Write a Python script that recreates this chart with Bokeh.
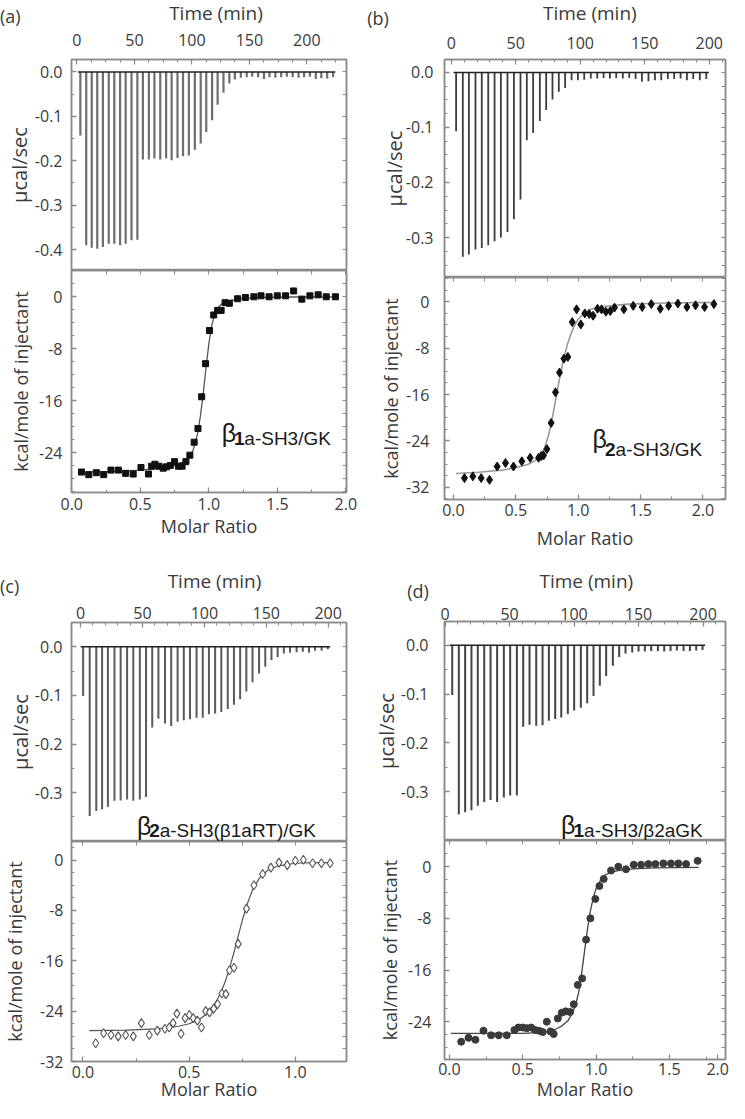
from bokeh.plotting import figure
from bokeh.models import Range1d, LinearAxis, FixedTicker, PrintfTickFormatter, Label, Div
from bokeh.layouts import column, row
from bokeh.embed import file_html
from bokeh.resources import INLINE

# ---------------- data: raw thermograms (injection time, peak height) ----------------
a_time = [3.0, 8.1, 12.9, 17.7, 22.6, 27.7, 32.5, 37.6, 42.4, 47.5, 52.6, 57.4, 62.6, 67.4, 72.5,
          77.6, 82.4, 87.5, 92.3, 97.4, 102.6, 107.7, 112.5, 117.6, 122.4, 127.5, 132.6, 137.4,
          142.6, 147.7, 152.5, 157.6, 162.7, 167.5, 172.6, 177.7, 182.6, 187.7, 192.8, 197.6,
          202.7, 207.8, 212.6, 217.7, 222.8]
a_peak = [-0.143, -0.390, -0.396, -0.398, -0.394, -0.387, -0.387, -0.390, -0.387, -0.379, -0.378,
          -0.197, -0.197, -0.195, -0.197, -0.195, -0.199, -0.194, -0.190, -0.188, -0.175, -0.161,
          -0.135, -0.109, -0.074, -0.047, -0.026, -0.017, -0.013, -0.012, -0.011, -0.012, -0.016,
          -0.012, -0.013, -0.012, -0.011, -0.012, -0.013, -0.012, -0.011, -0.016, -0.014, -0.015, -0.012]

b_time = [3.8, 9.0, 13.7, 18.8, 23.7, 28.7, 33.6, 38.5, 43.6, 48.6, 53.7, 58.6, 63.5, 68.7, 73.6,
          78.5, 83.4, 88.3, 93.3, 98.2, 103.1, 108.2, 113.2, 118.1, 123.0, 127.9, 133.0, 138.0,
          142.9, 147.8, 152.9, 157.9, 162.8, 167.9, 172.8, 177.8, 182.7, 187.6, 192.7, 197.7]
b_peak = [-0.107, -0.335, -0.331, -0.322, -0.319, -0.314, -0.307, -0.300, -0.290, -0.267, -0.231,
          -0.123, -0.110, -0.088, -0.068, -0.049, -0.035, -0.028, -0.014, -0.014, -0.013, -0.011,
          -0.011, -0.010, -0.011, -0.010, -0.011, -0.010, -0.012, -0.017, -0.016, -0.014, -0.014,
          -0.012, -0.012, -0.011, -0.014, -0.012, -0.014, -0.012]

c_time = [2.1, 7.4, 12.7, 17.4, 22.1, 27.4, 32.4, 37.6, 42.6, 47.9, 52.9, 57.9, 62.9, 68.2, 73.2,
          78.4, 83.4, 88.4, 93.7, 98.7, 103.7, 108.7, 113.7, 118.9, 123.9, 128.9, 133.9, 138.9,
          144.2, 149.2, 154.2, 159.2, 164.2, 169.2, 174.5, 179.5, 184.5, 189.4, 194.7, 199.7]
c_peak = [-0.101, -0.348, -0.338, -0.334, -0.329, -0.317, -0.316, -0.314, -0.317, -0.314, -0.309,
          -0.166, -0.148, -0.158, -0.163, -0.154, -0.151, -0.149, -0.146, -0.146, -0.139, -0.137,
          -0.134, -0.128, -0.119, -0.108, -0.092, -0.073, -0.055, -0.041, -0.027, -0.021, -0.014,
          -0.012, -0.011, -0.010, -0.012, -0.008, -0.008, -0.005]

d_time = [5.6, 10.7, 15.6, 20.5, 25.4, 30.4, 35.3, 40.4, 45.6, 50.5, 55.7, 60.6, 65.5, 70.7, 75.6,
          80.5, 85.4, 90.1, 95.2, 100.1, 105.3, 110.2, 115.1, 120.0, 124.9, 130.1, 135.0, 139.9,
          145.1, 150.0, 154.9, 159.8, 165.0, 169.9, 174.8, 179.7, 184.9, 189.8, 194.7, 199.6]
d_peak = [-0.102, -0.346, -0.342, -0.338, -0.329, -0.321, -0.317, -0.321, -0.312, -0.308, -0.308,
          -0.167, -0.163, -0.165, -0.164, -0.155, -0.151, -0.148, -0.141, -0.134, -0.128, -0.119,
          -0.104, -0.083, -0.063, -0.042, -0.024, -0.017, -0.015, -0.013, -0.013, -0.012, -0.012,
          -0.013, -0.012, -0.011, -0.012, -0.012, -0.011, -0.010]

# ---------------- data: integrated heats ----------------
a_ratio = [0.071, 0.124, 0.179, 0.233, 0.286, 0.340, 0.393, 0.448, 0.505, 0.560, 0.583, 0.607,
           0.636, 0.667, 0.690, 0.719, 0.750, 0.779, 0.805, 0.833, 0.862, 0.893, 0.921, 0.948,
           0.976, 1.005, 1.036, 1.064, 1.090, 1.119, 1.150, 1.210, 1.267, 1.329, 1.381, 1.440,
           1.500, 1.560, 1.619, 1.679, 1.738, 1.798, 1.857, 1.924]
a_heat = [-27.0, -27.4, -27.1, -27.4, -26.7, -26.7, -27.2, -27.3, -26.3, -27.3, -26.1, -25.8,
          -26.1, -26.4, -26.2, -26.0, -25.4, -26.1, -26.1, -25.4, -24.4, -22.4, -20.3, -15.4,
          -10.3, -5.2, -2.8, -2.1, -2.1, -0.9, -1.0, -0.3, -0.1, 0.0, 0.15, 0.0, 0.15, 0.15,
          0.9, -0.36, 0.15, 0.3, 0.0, 0.0]
a_fit_ratio = [0.07, 0.3, 0.5, 0.65, 0.75, 0.82, 0.86, 0.88, 0.90, 0.92, 0.94, 0.96, 0.98, 1.00,
               1.02, 1.04, 1.07, 1.10, 1.15, 1.25, 1.4, 1.6, 1.93]
a_fit_heat = [-27.0, -26.9, -26.7, -26.4, -26.0, -25.4, -24.6, -23.9, -22.7, -20.9, -18.2, -14.8,
              -10.9, -7.3, -4.6, -2.9, -1.6, -1.0, -0.6, -0.25, -0.1, -0.03, 0.0]

b_ratio = [0.088, 0.155, 0.222, 0.289, 0.350, 0.417, 0.481, 0.548, 0.615, 0.682, 0.703, 0.722,
           0.749, 0.783, 0.818, 0.850, 0.885, 0.917, 0.952, 0.987, 1.021, 1.053, 1.088, 1.120,
           1.155, 1.187, 1.222, 1.257, 1.291, 1.366, 1.441, 1.513, 1.586, 1.658, 1.725, 1.799,
           1.872, 1.941, 2.013, 2.088]
b_heat = [-30.4, -30.1, -30.4, -30.7, -28.4, -27.8, -28.4, -27.5, -26.9, -26.9, -26.6, -26.5,
          -25.4, -20.9, -15.6, -12.2, -9.8, -9.5, -3.5, -1.3, -3.9, -2.0, -2.1, -2.4, -1.2, -1.3,
          -1.7, -1.6, -1.0, -1.3, -0.7, -0.9, -0.4, -1.2, -0.7, -0.3, -0.9, -0.6, -0.9, -0.4]
b_fit_ratio = [0.02, 0.2, 0.4, 0.5, 0.6, 0.66, 0.70, 0.73, 0.76, 0.79, 0.82, 0.85, 0.88, 0.91,
               0.94, 0.97, 1.0, 1.05, 1.1, 1.2, 1.4, 1.7, 2.1]
b_fit_heat = [-29.6, -29.4, -29.0, -28.6, -28.0, -27.3, -26.4, -25.2, -23.2, -20.3, -16.8, -13.3,
              -10.2, -7.6, -5.6, -4.1, -3.0, -1.9, -1.3, -0.8, -0.4, -0.2, -0.1]

c_ratio = [0.060, 0.097, 0.132, 0.166, 0.201, 0.237, 0.275, 0.312, 0.350, 0.386, 0.406, 0.424,
           0.442, 0.462, 0.481, 0.501, 0.519, 0.539, 0.558, 0.578, 0.596, 0.616, 0.634, 0.654,
           0.673, 0.690, 0.711, 0.731, 0.770, 0.805, 0.846, 0.885, 0.923, 0.962, 1.000, 1.038,
           1.081, 1.123, 1.164]
c_heat = [-29.1, -27.5, -27.8, -28.0, -27.8, -28.0, -25.9, -27.8, -27.1, -26.8, -26.6, -25.9,
          -24.4, -27.6, -25.1, -24.6, -25.1, -25.5, -26.6, -24.0, -24.2, -23.6, -22.9, -21.2,
          -21.3, -17.5, -17.1, -13.3, -7.7, -4.0, -2.2, -1.2, -0.4, -0.8, -0.1, 0.05, -0.5,
          -0.5, -0.5]
c_fit_ratio = [0.03, 0.2, 0.35, 0.45, 0.5, 0.55, 0.58, 0.61, 0.63, 0.65, 0.67, 0.69, 0.71, 0.73,
               0.75, 0.77, 0.80, 0.83, 0.87, 0.92, 1.0, 1.08, 1.165]
c_fit_heat = [-27.1, -27.0, -26.8, -26.4, -26.0, -25.3, -24.5, -23.3, -22.3, -21.0, -19.3, -17.2,
              -14.8, -12.2, -9.6, -7.3, -4.6, -2.9, -1.6, -0.9, -0.5, -0.4, -0.4]

d_ratio = [0.080, 0.130, 0.177, 0.232, 0.284, 0.336, 0.391, 0.443, 0.470, 0.500, 0.527, 0.557,
           0.584, 0.611, 0.636, 0.664, 0.689, 0.711, 0.739, 0.766, 0.793, 0.823, 0.848, 0.875,
           0.905, 0.932, 0.961, 0.995, 1.023, 1.052, 1.102, 1.152, 1.204, 1.257, 1.307, 1.357,
           1.405, 1.459, 1.511, 1.561, 1.614, 1.693]
d_heat = [-27.1, -26.5, -26.8, -25.4, -26.1, -26.1, -26.1, -25.3, -24.9, -24.9, -25.0, -24.9,
          -25.3, -25.4, -25.6, -24.0, -25.5, -25.9, -23.5, -22.6, -22.4, -22.5, -21.3, -18.3,
          -17.3, -11.3, -8.0, -5.0, -3.0, -1.9, -0.6, 0.0, -0.4, 0.3, 0.3, 0.4, 0.4, 0.5, 0.5,
          0.5, 0.4, 0.9]
d_fit_ratio = [0.01, 0.3, 0.5, 0.65, 0.72, 0.77, 0.81, 0.84, 0.86, 0.88, 0.90, 0.92, 0.94, 0.96,
               0.98, 1.0, 1.03, 1.06, 1.1, 1.15, 1.25, 1.4, 1.7]
d_fit_heat = [-25.8, -25.8, -25.8, -25.6, -25.2, -24.6, -23.8, -22.6, -21.4, -19.6, -16.8, -13.3,
              -9.9, -7.0, -4.9, -3.4, -2.1, -1.3, -0.9, -0.6, -0.35, -0.2, -0.1]

# ---------------- tick labels / texts ----------------
time_ticks = [0, 50, 100, 150, 200]
power_ticks_4 = [0.0, -0.1, -0.2, -0.3, -0.4]
power_ticks_3 = [0.0, -0.1, -0.2, -0.3]
heat_ticks_24 = [0, -8, -16, -24]
heat_ticks_32 = [0, -8, -16, -24, -32]
ratio_ticks_2 = [0.0, 0.5, 1.0, 1.5, 2.0]
ratio_ticks_1 = [0.0, 0.5, 1.0]
ratio_labels_d = ["0.0", "0.5", "1.0", "1.5", "2.0"]
panel_tags = ["(a)", "(b)", "(c)", "(d)"]
time_title = "Time (min)"
ratio_title = "Molar Ratio"
power_title = "µcal/sec"
heat_title = "kcal/mole of injectant"
constructs = [("1", "a-SH3/GK"), ("2", "a-SH3/GK"), ("2", "a-SH3(β1aRT)/GK"), ("1", "a-SH3/β2aGK")]

FONT = "Open Sans"
TXT = "#3a3a3a"
FRAME = "#8a8a8a"


def minors(lo, hi, step):
    n = int(round((hi - lo) / step))
    return [lo + i * step for i in range(n + 1)]


def style_ticks(ax):
    ax.axis_line_color = FRAME
    ax.axis_line_width = 1.5
    ax.major_tick_in = 5
    ax.major_tick_out = 0
    ax.minor_tick_in = 3
    ax.minor_tick_out = 0
    ax.major_tick_line_color = FRAME
    ax.minor_tick_line_color = FRAME
    ax.major_tick_line_width = 1.3
    ax.minor_tick_line_width = 1.0


def mk_axis(ticks, minor, fmt, standoff=6, title=None, als=0, tsize="18px", overrides=None):
    ax = LinearAxis(ticker=FixedTicker(ticks=ticks, minor_ticks=minor),
                    formatter=PrintfTickFormatter(format=fmt))
    style_ticks(ax)
    ax.major_label_text_font = FONT
    ax.major_label_text_font_size = "16px"
    ax.major_label_text_color = TXT
    ax.major_label_standoff = standoff
    if overrides:
        ax.major_label_overrides = overrides
    if title:
        ax.axis_label = title
        ax.axis_label_text_font = FONT
        ax.axis_label_text_font_size = tsize
        ax.axis_label_text_font_style = "normal"
        ax.axis_label_text_color = TXT
        ax.axis_label_standoff = als
    return ax


def mirror_axis(ticks, minor):
    # tick marks only (no labels): every position is drawn as a minor tick
    ax = LinearAxis(ticker=FixedTicker(ticks=[], minor_ticks=sorted(set(ticks) | set(minor))))
    style_ticks(ax)
    ax.minor_tick_in = 4
    ax.major_label_standoff = 0
    return ax


def mk_fig(g, bl, br, bt, bb):
    p = figure(width=bl + g["fw"] + br, height=bt + g["fh"] + bb,
               x_range=Range1d(*g["xr"]), y_range=Range1d(*g["yr"]),
               min_border_left=bl, min_border_right=br, min_border_top=bt, min_border_bottom=bb,
               x_axis_location=None, y_axis_location=None,
               toolbar_location=None, output_backend="svg")
    p.outline_line_color = FRAME
    p.outline_line_width = 1.5
    p.background_fill_color = "white"
    p.border_fill_color = None
    for gr in p.grid:
        gr.visible = False
    return p


def span(x, top, text, size, center=False):
    shift = "transform:translateX(-50%);" if center else ""
    return (f'<span style="position:absolute;left:{x}px;top:{top}px;{shift}white-space:nowrap;'
            f'font-size:{size}px;line-height:{size}px;">{text}</span>')


def header_div(w, h, tag, tag_x, tag_top, title_x, title_top):
    html = (f'<div style="position:relative;width:{w}px;height:{h}px;overflow:visible;'
            f'font-family:\'Open Sans\';color:{TXT};">'
            + span(tag_x, tag_top, tag, 18) + span(title_x, title_top, time_title, 19, center=True)
            + '</div>')
    return Div(text=html, width=w, height=h, margin=0, styles={"overflow": "visible"})


def to_data(g, sx, sy):
    x = g["xr"][0] + (sx - g["left"]) / g["fw"] * (g["xr"][1] - g["xr"][0])
    y = g["yr"][1] - (sy - g["top"]) / g["fh"] * (g["yr"][1] - g["yr"][0])
    return x, y


def add_text(p, g, sx, sy, text, size, style="normal"):
    x, y = to_data(g, sx, sy)
    p.add_layout(Label(x=x, y=y, text=text, text_font="Liberation Sans", text_font_size=size,
                       text_color="#1a1a1a", text_align="left", text_baseline="alphabetic",
                       text_font_style=style))


def construct_label(p, g, sx, sy_beta, sy_sub, sub_bold, sub_rest):
    add_text(p, g, sx, sy_beta, "β", "25px")
    add_text(p, g, sx + 12.5, sy_sub, sub_bold, "19px", style="bold")
    add_text(p, g, sx + 23.1, sy_sub, sub_rest, "19px")


def thermogram(p, t, pk, color, width):
    p.segment(x0=t, y0=[0.0] * len(t), x1=t, y1=pk, line_color=color, line_width=width)
    p.line(x=[t[0] - 2, t[-1] + 2], y=[0.0, 0.0], line_color="#222222", line_width=1.4)


# ---------------- geometry (screen px of the reference) ----------------
LW, RW = 360, 369           # column widths
LB_L, RB_L = 65, 14         # left column borders (left, right)
LB_R, RB_R = 84, 4          # right column borders (left, right)
FW = 281                    # frame width, all plots
G = {
    "a_top": dict(left=73, top=67, fw=FW, fh=211, xr=(-4.7, 234.5), yr=(-0.447, 0.028)),
    "a_bot": dict(left=73, top=278, fw=FW, fh=222, xr=(-0.002, 2.005), yr=(-30.15, 4.05)),
    "b_top": dict(left=452, top=67, fw=FW, fh=218, xr=(-5.2, 212.6), yr=(-0.3727, 0.0236)),
    "b_bot": dict(left=452, top=285, fw=FW, fh=222, xr=(-0.072, 2.181), yr=(-34.09, 4.19)),
    "c_top": dict(left=73, top=630, fw=FW, fh=219, xr=(-7.3, 214.8), yr=(-0.4006, 0.05)),
    "c_bot": dict(left=73, top=849, fw=FW, fh=221, xr=(-0.054, 1.241), yr=(-32.0, 2.96)),
    "d_top": dict(left=452, top=629, fw=FW, fh=219, xr=(-0.4, 217.4), yr=(-0.4, 0.0485)),
    "d_bot": dict(left=452, top=848, fw=FW, fh=220, xr=(-0.034, 1.883), yr=(-29.85, 4.05)),
}

pw_minor_05 = minors(-0.45, 0.05, 0.05)
pw_minor_025 = minors(-0.4, 0.025, 0.025)
heat_minor = minors(-34, 4, 2)
ratio_minor = minors(0, 2.25, 0.25)

# ---------------- panel (a) ----------------
hdr_a = header_div(LW, 25, panel_tags[0], 0, 6.5, 216, 3.5)

g = G["a_top"]
a_top = mk_fig(g, LB_L, RB_L, 34, 0)
a_top.add_layout(mk_axis(time_ticks, minors(0, 237.5, 12.5), "%d", standoff=14), "above")
a_top.add_layout(mk_axis(power_ticks_4, pw_minor_05, "%.1f", standoff=9, title=power_title, als=-1, tsize="20px"), "left")
a_top.add_layout(mirror_axis(power_ticks_4, pw_minor_05), "right")
thermogram(a_top, a_time, a_peak, "#6e6e6e", 2.2)

g = G["a_bot"]
a_bot = mk_fig(g, LB_L, RB_L, 0, 78)
a_bot.add_layout(mk_axis(ratio_ticks_2, ratio_minor, "%.1f", standoff=5, title=ratio_title, als=1), "below")
a_bot.add_layout(mirror_axis(ratio_ticks_2, ratio_minor), "above")
a_bot.add_layout(mk_axis(heat_ticks_24, heat_minor, "%d", standoff=9, title=heat_title, als=3), "left")
a_bot.add_layout(mirror_axis(heat_ticks_24, heat_minor), "right")
a_bot.line(a_fit_ratio, a_fit_heat, line_color="#555555", line_width=1.3)
a_bot.scatter(a_ratio, a_heat, marker="square", size=6, color="#111111")
construct_label(a_bot, g, 226.5, 440, 446, *constructs[0])

# ---------------- panel (b) ----------------
hdr_b = header_div(RW, 25, panel_tags[1], 7.3, 9, 229.8, 3.5)

g = G["b_top"]
b_top = mk_fig(g, LB_R, RB_R, 34, 0)
b_top.add_layout(mk_axis(time_ticks, minors(0, 210, 10), "%d", standoff=11), "above")
b_top.add_layout(mk_axis(power_ticks_3, pw_minor_025, "%.1f", standoff=11, title=power_title, als=-5, tsize="20px"), "left")
b_top.add_layout(mirror_axis(power_ticks_3, pw_minor_025), "right")
thermogram(b_top, b_time, b_peak, "#3c3c3c", 1.8)

g = G["b_bot"]
b_bot = mk_fig(g, LB_R, RB_R, 0, 72)
b_bot.add_layout(mk_axis(ratio_ticks_2, ratio_minor, "%.1f", standoff=4, title=ratio_title, als=7), "below")
b_bot.add_layout(mirror_axis(ratio_ticks_2, ratio_minor), "above")
b_bot.add_layout(mk_axis(heat_ticks_32, heat_minor, "%d", standoff=15, title=heat_title, als=0), "left")
b_bot.add_layout(mirror_axis(heat_ticks_32, heat_minor), "right")
b_bot.line(b_fit_ratio, b_fit_heat, line_color="#999999", line_width=1.6)
b_bot.scatter(b_ratio, b_heat, marker="diamond", size=9, color="#111111")
construct_label(b_bot, g, 600, 446, 456.5, *constructs[1])

# ---------------- panel (c) ----------------
hdr_c = header_div(LW, 28, panel_tags[2], 0, 7.4, 214.5, 2.1)

g = G["c_top"]
c_top = mk_fig(g, LB_L, RB_L, 24, 0)
c_top.add_layout(mk_axis(time_ticks, minors(0, 210, 10), "%d", standoff=4), "above")
c_top.add_layout(mk_axis(power_ticks_3, pw_minor_05, "%.1f", standoff=9, title=power_title, als=-2, tsize="20px"), "left")
c_top.add_layout(mirror_axis(power_ticks_3, pw_minor_05), "right")
thermogram(c_top, c_time, c_peak, "#5a5a5a", 2.0)
construct_label(c_top, g, 140, 833, 838.3, *constructs[2])

g = G["c_bot"]
c_bot = mk_fig(g, LB_L, RB_L, 0, 41)
c_bot.add_layout(mk_axis(ratio_ticks_1, ratio_minor, "%.1f", standoff=4, title=ratio_title, als=-4), "below")
c_bot.add_layout(mirror_axis(ratio_ticks_1, ratio_minor), "above")
c_bot.add_layout(mk_axis(heat_ticks_32, heat_minor, "%d", standoff=8, title=heat_title, als=10), "left")
c_bot.add_layout(mirror_axis(heat_ticks_32, heat_minor), "right")
c_bot.line(c_fit_ratio, c_fit_heat, line_color="#555555", line_width=1.2)
c_bot.scatter(c_ratio, c_heat, marker="diamond", size=9, fill_color="white",
              line_color="#555555", line_width=1.1)

# ---------------- panel (d) ----------------
hdr_d = header_div(RW, 28, panel_tags[3], 47.3, 11, 226.3, 1.1)

g = G["d_top"]
d_top = mk_fig(g, LB_R, RB_R, 22, 0)
d_top.add_layout(mk_axis(time_ticks, minors(0, 210, 10), "%d", standoff=2), "above")
d_top.add_layout(mk_axis(power_ticks_3, pw_minor_05, "%.1f", standoff=16, title=power_title, als=-2, tsize="20px"), "left")
d_top.add_layout(mirror_axis(power_ticks_4, pw_minor_05), "right")
thermogram(d_top, d_time, d_peak, "#444444", 2.0)
construct_label(d_top, g, 568.5, 832.5, 838.3, *constructs[3])

g = G["d_bot"]
d_ratio_ticks = ratio_ticks_2[:-1] + [1.83]
d_bot = mk_fig(g, LB_R, RB_R, 0, 43)
d_bot.add_layout(mk_axis(d_ratio_ticks, ratio_minor[:-2], "%.1f", standoff=3, title=ratio_title, als=-1,
                         overrides={t: s for t, s in zip(d_ratio_ticks, ratio_labels_d)}), "below")
d_bot.add_layout(mirror_axis(ratio_ticks_2[:-1], ratio_minor[:-2]), "above")
d_bot.add_layout(mk_axis(heat_ticks_24, heat_minor, "%d", standoff=13, title=heat_title, als=3), "left")
d_bot.add_layout(mirror_axis(heat_ticks_24, heat_minor), "right")
d_bot.line(d_fit_ratio, d_fit_heat, line_color="#444444", line_width=1.3)
d_bot.scatter(d_ratio, d_heat, marker="circle", size=7, color="#3a3a3a")

left = column(hdr_a, a_top, a_bot, hdr_c, c_top, c_bot)
right = column(hdr_b, b_top, b_bot, hdr_d, d_top, d_bot)
page = row(left, right)

open("out.html", "w").write(file_html(page, INLINE))
